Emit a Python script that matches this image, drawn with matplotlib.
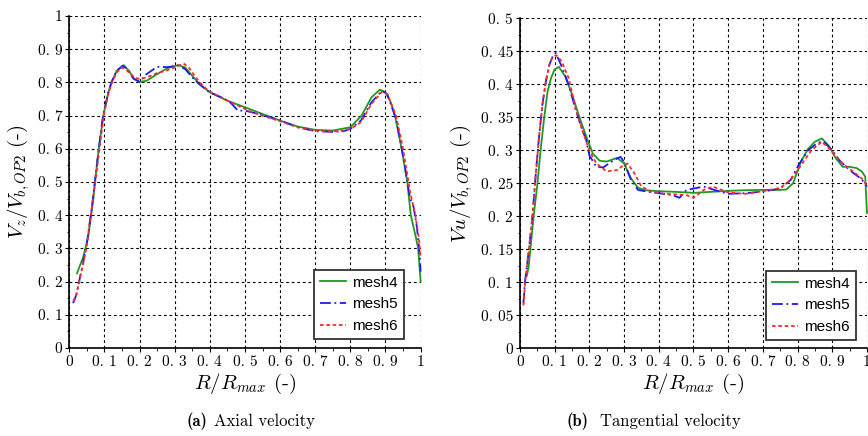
import matplotlib
matplotlib.use("Agg")
import matplotlib.pyplot as plt
from matplotlib.ticker import MultipleLocator

plt.rcParams['mathtext.fontset'] = 'cm'
plt.rcParams['font.family'] = ['cmr10', 'DejaVu Serif']
plt.rcParams['axes.unicode_minus'] = False

# ---------------- Axial velocity (left) ----------------
ax_m4_x = [0.022, 0.04, 0.054, 0.068, 0.073, 0.084, 0.097, 0.11, 0.12, 0.135, 0.155, 0.17, 0.185, 0.2,
           0.22, 0.25, 0.28, 0.31, 0.33, 0.35, 0.37, 0.4, 0.45, 0.5, 0.55, 0.6, 0.65, 0.7, 0.75,
           0.8, 0.832, 0.86, 0.884, 0.9, 0.915, 0.927, 0.946, 0.962, 0.972, 0.985, 0.993, 1.0]
ax_m4_y = [0.225, 0.275, 0.335, 0.445, 0.5, 0.6, 0.7, 0.765, 0.8, 0.835, 0.852, 0.835, 0.81, 0.801,
           0.805, 0.825, 0.843, 0.852, 0.845, 0.82, 0.795, 0.77, 0.745, 0.725, 0.705, 0.685, 0.667, 0.657, 0.655,
           0.665, 0.7, 0.755, 0.778, 0.77, 0.74, 0.7, 0.6, 0.5, 0.4, 0.34, 0.3, 0.2]

ax_m5_x = [0.011, 0.02, 0.03, 0.04, 0.05, 0.065, 0.073, 0.084, 0.096, 0.11, 0.12, 0.135, 0.152, 0.165,
           0.182, 0.2, 0.22, 0.25, 0.28, 0.31, 0.33, 0.35, 0.37, 0.4, 0.44, 0.46, 0.48, 0.5, 0.55,
           0.6, 0.65, 0.7, 0.75, 0.78, 0.8, 0.83, 0.86, 0.89, 0.905, 0.93, 0.95, 0.97, 0.979, 0.988,
           0.996, 1.0]
ax_m5_y = [0.135, 0.16, 0.21, 0.26, 0.315, 0.43, 0.5, 0.6, 0.7, 0.765, 0.8, 0.835, 0.85, 0.84,
           0.812, 0.802, 0.825, 0.847, 0.846, 0.851, 0.84, 0.815, 0.795, 0.77, 0.752, 0.738, 0.715, 0.715, 0.702,
           0.685, 0.665, 0.653, 0.651, 0.653, 0.66, 0.685, 0.74, 0.775, 0.765, 0.69, 0.58, 0.45, 0.43, 0.375,
           0.3, 0.23]

ax_m6_x = [0.011, 0.02, 0.03, 0.04, 0.05, 0.065, 0.074, 0.086, 0.098, 0.11, 0.12, 0.135, 0.15, 0.165,
           0.185, 0.2, 0.22, 0.25, 0.28, 0.3, 0.325, 0.34, 0.36, 0.38, 0.4, 0.45, 0.5, 0.52, 0.55,
           0.6, 0.65, 0.7, 0.75, 0.78, 0.8, 0.83, 0.86, 0.89, 0.905, 0.93, 0.95, 0.97, 0.985, 0.995, 1.0]
ax_m6_y = [0.14, 0.16, 0.21, 0.255, 0.31, 0.43, 0.5, 0.6, 0.7, 0.76, 0.795, 0.83, 0.845, 0.835,
           0.815, 0.81, 0.815, 0.828, 0.837, 0.845, 0.857, 0.845, 0.815, 0.79, 0.772, 0.745, 0.72, 0.71, 0.7,
           0.683, 0.665, 0.655, 0.652, 0.655, 0.66, 0.68, 0.735, 0.772, 0.765, 0.7, 0.6, 0.47, 0.4, 0.33, 0.27]

# ---------------- Tangential velocity (right) ----------------
tg_m4_x = [0.02, 0.025, 0.032, 0.04, 0.05, 0.06, 0.07, 0.08, 0.09, 0.1, 0.112, 0.13, 0.15, 0.17,
           0.19, 0.21, 0.23, 0.25, 0.28, 0.3, 0.32, 0.34, 0.36, 0.4, 0.45, 0.5, 0.55, 0.6, 0.65,
           0.7, 0.75, 0.767, 0.787, 0.81, 0.83, 0.85, 0.87, 0.89, 0.91, 0.93, 0.95, 0.97, 0.985,
           0.995, 1.0]
tg_m4_y = [0.11, 0.123, 0.16, 0.2025, 0.2475, 0.3025, 0.35, 0.39, 0.41, 0.4225, 0.4265, 0.4125, 0.385, 0.3525,
           0.3225, 0.295, 0.284, 0.283, 0.2885, 0.28, 0.2575, 0.2435, 0.2395, 0.238, 0.237, 0.2355, 0.237, 0.2385, 0.2395,
           0.24, 0.24, 0.2405, 0.25, 0.283, 0.302, 0.313, 0.318, 0.307, 0.288, 0.275, 0.275, 0.273, 0.268,
           0.26, 0.205]

tg_m5_x = [0.01, 0.015, 0.026, 0.036, 0.045, 0.055, 0.065, 0.075, 0.085, 0.095, 0.103, 0.12, 0.14, 0.16,
           0.18, 0.19, 0.2, 0.22, 0.24, 0.27, 0.29, 0.3, 0.32, 0.34, 0.37, 0.4, 0.44, 0.46, 0.48,
           0.5, 0.53, 0.56, 0.6, 0.65, 0.7, 0.75, 0.78, 0.8, 0.83, 0.86, 0.875, 0.9, 0.92, 0.95,
           0.98, 0.995, 1.0]
tg_m5_y = [0.068, 0.103, 0.15, 0.2, 0.26, 0.32, 0.37, 0.405, 0.43, 0.443, 0.4475, 0.4275, 0.4, 0.3625,
           0.33, 0.3175, 0.2925, 0.275, 0.274, 0.285, 0.29, 0.2825, 0.255, 0.24, 0.237, 0.235, 0.232, 0.228, 0.24,
           0.242, 0.245, 0.24, 0.234, 0.235, 0.2375, 0.242, 0.255, 0.275, 0.3, 0.312, 0.313, 0.3, 0.285, 0.27,
           0.258, 0.25, 0.245]

tg_m6_x = [0.01, 0.015, 0.026, 0.036, 0.045, 0.055, 0.065, 0.075, 0.085, 0.095, 0.105, 0.12, 0.14, 0.16,
           0.18, 0.2, 0.22, 0.25, 0.28, 0.3, 0.31, 0.33, 0.35, 0.38, 0.4, 0.45, 0.48, 0.5, 0.53,
           0.556, 0.6, 0.65, 0.7, 0.75, 0.78, 0.8, 0.84, 0.87, 0.9, 0.93, 0.96, 0.99, 1.0]
tg_m6_y = [0.065, 0.1, 0.15, 0.2, 0.26, 0.32, 0.37, 0.405, 0.43, 0.442, 0.444, 0.435, 0.41, 0.365,
           0.33, 0.3, 0.28, 0.268, 0.27, 0.278, 0.28, 0.265, 0.245, 0.237, 0.235, 0.233, 0.232, 0.228, 0.24,
           0.245, 0.236, 0.234, 0.238, 0.243, 0.255, 0.27, 0.3, 0.313, 0.298, 0.28, 0.268, 0.255, 0.245]

series_names = ['mesh4', 'mesh5', 'mesh6']

x_ticks = [0, 0.1, 0.2, 0.3, 0.4, 0.5, 0.6, 0.7, 0.8, 0.9, 1.0]
x_ticklabels = ['0', '0. 1', '0. 2', '0. 3', '0. 4', '0. 5', '0. 6', '0. 7', '0. 8', '0. 9', '1']
ax_yticks = [0, 0.1, 0.2, 0.3, 0.4, 0.5, 0.6, 0.7, 0.8, 0.9, 1.0]
ax_yticklabels = ['0', '0. 1', '0. 2', '0. 3', '0. 4', '0. 5', '0. 6', '0. 7', '0. 8', '0. 9', '1']
tg_yticks = [0, 0.05, 0.1, 0.15, 0.2, 0.25, 0.3, 0.35, 0.4, 0.45, 0.5]
tg_yticklabels = ['0', '0. 05', '0. 1', '0. 15', '0. 2', '0. 25', '0. 3', '0. 35', '0. 4', '0. 45', '0. 5']

captions_tag = ['(a)', '(b)']
captions_text = ['Axial velocity', 'Tangential velocity']

GREEN = '#1f9a1f'
BLUE = '#1a1aff'
RED = '#ff2a2a'

fig = plt.figure(figsize=(8.68, 4.36), dpi=100)
axL = fig.add_axes([0.0798, 0.2018, 0.4048, 0.7615])
axR = fig.add_axes([0.599, 0.2011, 0.3998, 0.757])


def style(ax, yticks, yticklabels, ymax, yminor, ylabel, leg_anchor):
    ax.set_xlim(0, 1)
    ax.set_ylim(0, ymax)
    ax.set_xticks(x_ticks)
    ax.set_xticklabels(x_ticklabels, fontsize=11)
    ax.set_yticks(yticks)
    ax.set_yticklabels(yticklabels, fontsize=11)
    ax.yaxis.set_minor_locator(MultipleLocator(yminor))
    ax.xaxis.set_minor_locator(MultipleLocator(0.05))
    ax.tick_params(which='major', direction='out', length=3, width=0.8, pad=2)
    ax.tick_params(which='minor', direction='out', length=1.8, width=0.6)
    ax.spines['top'].set_visible(False)
    ax.spines['right'].set_visible(False)
    ax.spines['left'].set_linewidth(1.2)
    ax.spines['bottom'].set_linewidth(1.2)
    ax.grid(True, which='major', color='black', linestyle=(0, (2.5, 2.5)), linewidth=0.8)
    ax.set_axisbelow(True)
    ax.set_ylabel(ylabel, fontsize=15, labelpad=4)
    ax.set_xlabel(r'$R/R_{max}$ (-)', fontsize=15, labelpad=2)
    leg = ax.legend(loc='lower right', bbox_to_anchor=leg_anchor, borderaxespad=0,
                    prop={'family': 'Liberation Sans', 'size': 11}, fancybox=False,
                    framealpha=1, edgecolor='#333333', handlelength=1.7, handletextpad=0.4,
                    borderpad=0.4, labelspacing=0.5)
    leg.get_frame().set_linewidth(1.3)


axL.plot(ax_m4_x, ax_m4_y, color=GREEN, lw=1.3, ls='-', label=series_names[0], clip_on=False)
axL.plot(ax_m5_x, ax_m5_y, color=BLUE, lw=1.3, ls=(0, (6, 2, 1, 2)), label=series_names[1], clip_on=False)
axL.plot(ax_m6_x, ax_m6_y, color=RED, lw=1.3, ls=(0, (2, 1.5)), label=series_names[2], clip_on=False)
style(axL, ax_yticks, ax_yticklabels, 1.0, 0.05, r'$V_z/V_{b,OP2}$ (-)', (0.952, 0.027))

axR.plot(tg_m4_x, tg_m4_y, color=GREEN, lw=1.3, ls='-', label=series_names[0], clip_on=False)
axR.plot(tg_m5_x, tg_m5_y, color=BLUE, lw=1.3, ls=(0, (6, 2, 1, 2)), label=series_names[1], clip_on=False)
axR.plot(tg_m6_x, tg_m6_y, color=RED, lw=1.3, ls=(0, (2, 1.5)), label=series_names[2], clip_on=False)
style(axR, tg_yticks, tg_yticklabels, 0.5, 0.025, r'$Vu/V_{b,OP2}$ (-)', (0.968, 0.025))

# captions: bold tag + regular text
W, H = 868.0, 436.0
cap_y = 1 - 421.0 / H
for tag_right, text_left, tag, txt in [(207, 214, captions_tag[0], captions_text[0]),
                                       (588, 600, captions_tag[1], captions_text[1])]:
    fig.text(tag_right / W, cap_y, tag, ha='right', va='center', fontsize=12, family='cmb10')
    fig.text(text_left / W, cap_y, txt, ha='left', va='center', fontsize=12, family='cmr10')

fig.savefig('out.png', dpi=100)
